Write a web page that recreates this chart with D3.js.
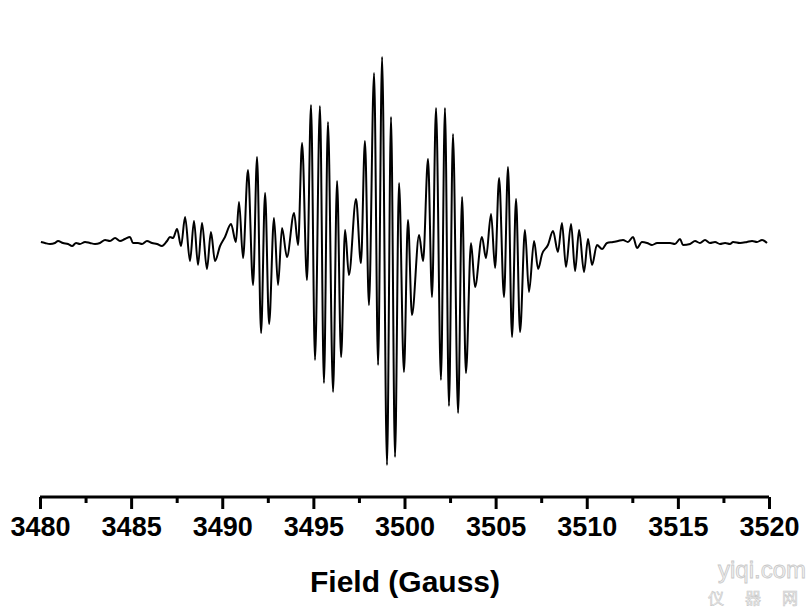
<!DOCTYPE html>
<html>
<head>
<meta charset="utf-8">
<script src="https://cdn.jsdelivr.net/npm/d3@7"></script>
<style>
  html, body { margin: 0; padding: 0; background: #fff; }
  svg { display: block; }
</style>
</head>
<body>
<svg id="chart" width="810" height="608"></svg>
<script>
// Magnetic field (Gauss)
const field = [
  3480.05, 3480.27, 3480.55, 3480.82, 3480.99, 3481.26, 3481.54, 3481.76, 3481.98, 3482.19,
  3482.47, 3482.74, 3483.02, 3483.29, 3483.57, 3483.84, 3484.12, 3484.39, 3484.66, 3484.94,
  3485.10, 3485.38, 3485.60, 3485.87, 3486.15, 3486.42, 3486.69, 3486.97, 3487.13, 3487.30,
  3487.52, 3487.74, 3487.96, 3488.23, 3488.45, 3488.67, 3488.89, 3489.16, 3489.38, 3489.60,
  3489.88, 3490.15, 3490.48, 3490.75, 3490.92, 3491.14, 3491.41, 3491.69, 3491.91, 3492.13,
  3492.35, 3492.57, 3492.84, 3493.06, 3493.28, 3493.55, 3493.94, 3494.16, 3494.38, 3494.65,
  3494.87, 3495.09, 3495.36, 3495.58, 3495.80, 3496.08, 3496.30, 3496.52, 3496.74, 3496.95,
  3497.34, 3497.61, 3497.83, 3498.05, 3498.33, 3498.55, 3498.77, 3499.04, 3499.26, 3499.48,
  3499.70, 3499.97, 3500.19, 3500.41, 3500.80, 3501.02, 3501.29, 3501.51, 3501.73, 3502.00,
  3502.22, 3502.44, 3502.66, 3502.94, 3503.16, 3503.37, 3503.65, 3503.87, 3504.25, 3504.47,
  3504.75, 3504.97, 3505.19, 3505.46, 3505.68, 3505.90, 3506.12, 3506.34, 3506.61, 3506.83,
  3507.11, 3507.33, 3507.55, 3507.87, 3508.15, 3508.42, 3508.64, 3508.86, 3509.14, 3509.36,
  3509.58, 3509.85, 3510.07, 3510.29, 3510.56, 3510.84, 3511.11, 3511.44, 3511.72, 3511.99,
  3512.26, 3512.54, 3512.76, 3513.03, 3513.31, 3513.58, 3513.86, 3514.18, 3514.57, 3514.84,
  3515.12, 3515.28, 3515.67, 3515.94, 3516.21, 3516.49, 3516.76, 3517.04, 3517.31, 3517.59,
  3517.86, 3518.03, 3518.41, 3518.79, 3519.07, 3519.34, 3519.62, 3519.89
];
// EPR signal intensity (arbitrary units)
const intensity = [
    0,   -1,   -2,   -1,    1,   -1,   -2,   -4,   -1,   -2,
    0,   -1,   -2,   -1,    2,    1,    4,    1,    3,    5,
   -1,   -1,   -2,    1,   -1,   -2,   -4,    1,    5,    4,
   13,   -4,   25,  -19,   21,  -23,   19,  -27,   10,  -19,
   -4,    5,   18,    0,   40,  -16,   72,  -43,   85,  -91,
   49,  -82,   24,  -43,   14,  -15,   29,   -3,   99,  -38,
  137, -118,  136, -141,  120, -150,   61, -115,   12,  -33,
   43,  -21,  101,  -63,  169, -123,  185, -223,  125, -215,
   59, -130,   22,  -73,    7,  -19,   83,  -55,  134, -138,
  134, -164,  108, -171,   45, -131,   -1,  -45,    5,  -16,
   28,  -26,   64,  -55,   75,  -95,   43,  -90,   12,  -50,
    1,  -27,  -12,   -3,   11,  -10,   19,  -25,   18,  -29,
   12,  -30,    3,  -23,   -3,   -7,   -1,    0,    1,    2,
    0,    5,   -6,    0,   -1,   -3,   -1,   -1,   -1,   -2,
    3,   -3,   -2,    1,   -1,    2,   -1,    0,   -2,   -1,
   -2,    0,   -1,    0,    1,    0,    2,   -1
];
const xTickValues = [3480, 3485, 3490, 3495, 3500, 3505, 3510, 3515, 3520];
const xMinorTickValues = [3482.5, 3487.5, 3492.5, 3497.5, 3502.5, 3507.5, 3512.5, 3517.5];
const xTitle = "Field (Gauss)";
const watermarkLatin = "yiqi.com";
const watermarkChars = ["仪", "器", "网"];

const svg = d3.select("#chart");
const x = d3.scaleLinear().domain([3480, 3520]).range([40, 769]);
const y = d3.scaleLinear().domain([-223, 185]).range([465, 57]);
const axisY = 497;

const pts = field.map((f, i) => [f, intensity[i]]);
const line = d3.line().x(d => x(d[0])).y(d => y(d[1])).curve(d3.curveMonotoneX);

svg.append("path")
  .datum(pts)
  .attr("d", line)
  .attr("fill", "none")
  .attr("stroke", "#000")
  .attr("stroke-width", 2)
  .attr("stroke-linejoin", "round");

// Bottom axis
const gx = svg.append("g").attr("transform", `translate(0,${axisY})`);
gx.call(d3.axisBottom(x).tickValues(xTickValues).tickSize(12).tickPadding(8).tickFormat(d3.format("d")));
gx.select(".domain").attr("stroke", "#000").attr("stroke-width", 3)
  .attr("d", `M${x(3480)},0H${x(3520)}`);
gx.selectAll(".tick line").attr("stroke", "#000").attr("stroke-width", 3);
gx.selectAll(".tick text")
  .attr("fill", "#000")
  .style("font-family", "'Liberation Sans', Arial, sans-serif")
  .style("font-weight", "bold")
  .style("font-size", "27px");

const gm = svg.append("g").attr("transform", `translate(0,${axisY})`);
gm.call(d3.axisBottom(x).tickValues(xMinorTickValues).tickSize(6).tickFormat(""));
gm.select(".domain").remove();
gm.selectAll(".tick line").attr("stroke", "#000").attr("stroke-width", 3);

// Axis title
svg.append("text")
  .attr("x", 405).attr("y", 592)
  .attr("text-anchor", "middle")
  .style("font-family", "'Liberation Sans', Arial, sans-serif")
  .style("font-weight", "bold")
  .style("font-size", "30px")
  .attr("fill", "#000")
  .text(xTitle);

// Watermark
svg.append("text")
  .attr("x", 806).attr("y", 578)
  .attr("text-anchor", "end")
  .style("font-family", "'Liberation Sans', Arial, sans-serif")
  .style("font-size", "24px")
  .attr("fill", "#f2f2f2").attr("stroke", "#c8c8c8").attr("stroke-width", 0.8)
  .text(watermarkLatin);
svg.selectAll("text.wm")
  .data(watermarkChars)
  .join("text")
  .attr("class", "wm")
  .attr("x", (d, i) => 716 + i * 37)
  .attr("y", 604)
  .attr("text-anchor", "middle")
  .style("font-family", "'Noto Sans CJK SC', sans-serif")
  .style("font-size", "16px")
  .attr("fill", "#f2f2f2").attr("stroke", "#c8c8c8").attr("stroke-width", 0.6)
  .text(d => d);
</script>
</body>
</html>
